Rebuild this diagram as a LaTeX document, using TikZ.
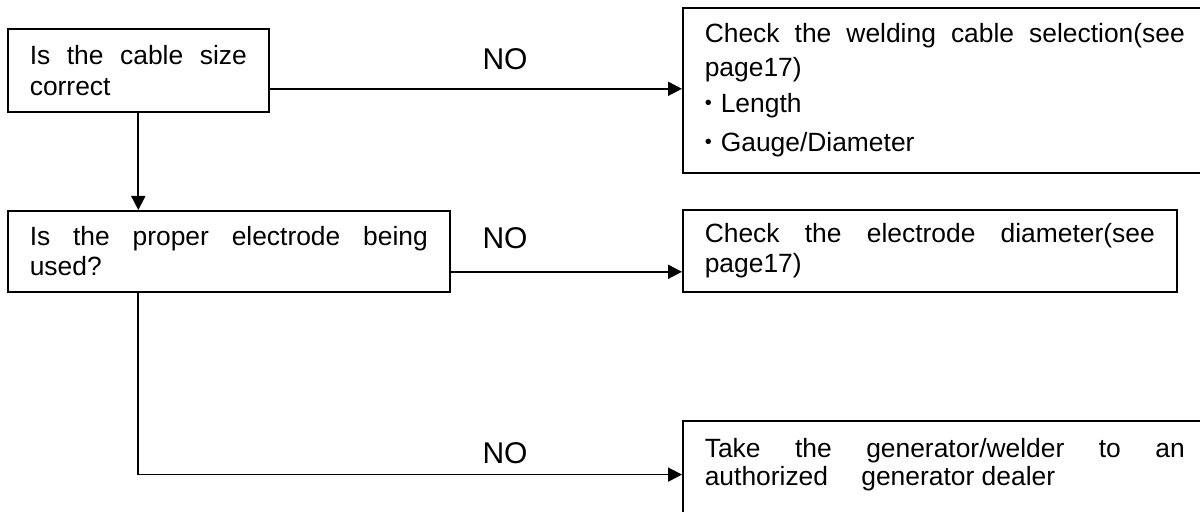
\documentclass[tikz,border=0pt]{standalone}
\usepackage{fontspec}
\setmainfont{Liberation Sans}
\usetikzlibrary{arrows.meta}
\tolerance=9999
\hyphenpenalty=10000
\newcommand\dotmark{\makebox[8pt][l]{\fontsize{10pt}{10pt}\selectfont\raisebox{1.5pt}{•}}}

\begin{document}
\begin{tikzpicture}[x=0.5pt,y=-0.5pt,
  box/.style={draw,line width=0.8pt,anchor=north west,inner xsep=11pt,
    inner ysep=0pt,align=justify,font=\fontsize{13.2pt}{15pt}\selectfont},
  nolabel/.style={font=\fontsize{15pt}{18pt}\selectfont},
  flow/.style={line width=0.9pt,-{Triangle[length=7pt,width=7pt]}}]
  \useasboundingbox (0,0) rectangle (1200,512);
  % question boxes (left column)
  \node[box,text width=108.5pt,minimum height=41.5pt,
    font=\fontsize{13.2pt}{15.5pt}\selectfont] (size) at (7,28)
    {Is the cable size\linebreak correct};
  \node[box,text width=199pt,minimum height=40.5pt] (electrode) at (7,210)
    {Is the proper electrode being\linebreak used?};
  % action boxes (right column)
  \node[box,text width=240pt,minimum height=82.5pt,
    font=\fontsize{13.2pt}{17pt}\selectfont] (cable) at (682,7)
    {Check the welding cable selection(see\linebreak page17)\par
     \vspace{1pt}\dotmark Length\par
     \vspace{2.5pt}\dotmark Gauge/Diameter};
  \node[box,text width=225pt,minimum height=41pt] (diameter) at (682,209)
    {Check the electrode diameter(see\linebreak page17)};
  \node[box,text width=240pt,inner ysep=9pt,
    font=\fontsize{13.2pt}{14pt}\selectfont] (dealer) at (682,420)
    {Take the generator/welder to an\linebreak
     authorized\hspace{13pt} generator dealer\rule[-22pt]{0pt}{1pt}};
  % branch labels
  \node[nolabel] (no1) at (505,59) {NO};
  \node[nolabel] (no2) at (505,238) {NO};
  \node[nolabel] (no3) at (505,453) {NO};
  % connectors
  \coordinate (sizeNo) at ([yshift=-9.25pt]size.east);
  \coordinate (electrodeNo) at ([yshift=-10.25pt]electrode.east);
  \path (size.south) ++(0,362) coordinate (turn);
  \draw[flow] (sizeNo) -- (sizeNo -| cable.west);
  \draw[flow] (size.south) -- (size.south |- electrode.north);
  \draw[flow] (electrodeNo) -- (electrodeNo -| diameter.west);
  \draw[flow] (size.south |- electrode.south) -- (turn) -- (turn -| dealer.west);
\end{tikzpicture}
\end{document}
